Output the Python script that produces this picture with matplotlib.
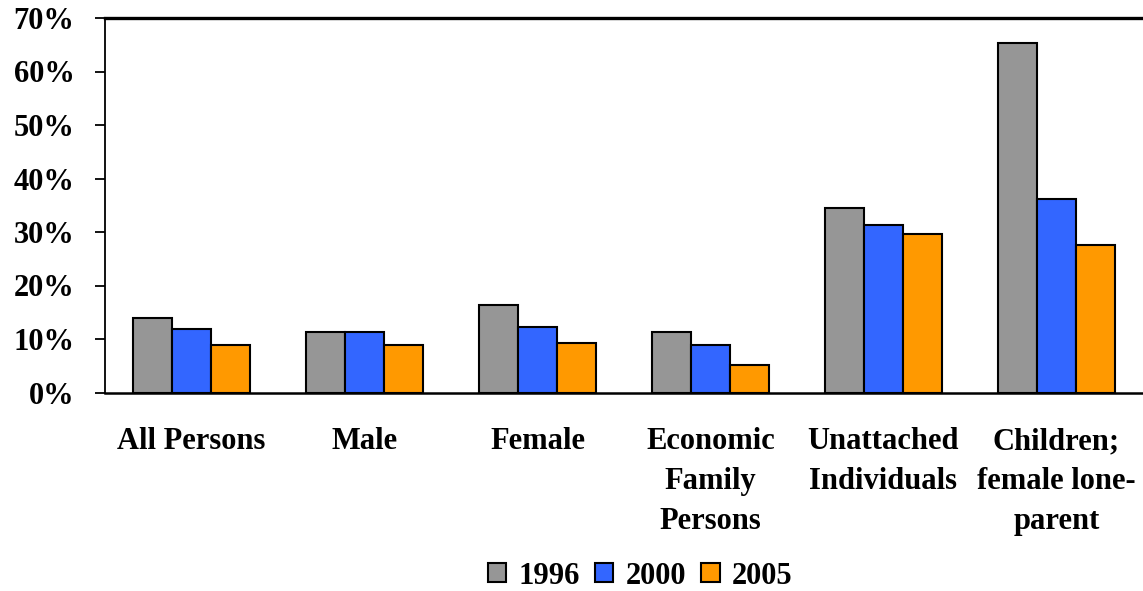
import numpy as np
import matplotlib
matplotlib.use("Agg")
import matplotlib.pyplot as plt
from matplotlib.ticker import PercentFormatter

categories = ["All Persons", "Male", "Female", "Economic\nFamily\nPersons",
              "Unattached\nIndividuals", "Children;\nfemale lone-\nparent"]
years = ["1996", "2000", "2005"]
rate_1996 = [14.0, 11.4, 16.3, 11.4, 34.4, 65.3]
rate_2000 = [11.8, 11.4, 12.2, 8.8, 31.4, 36.1]
rate_2005 = [8.8, 8.8, 9.2, 5.2, 29.7, 27.5]
colors = ["#969696", "#3366FF", "#FF9900"]

plt.rcParams["font.family"] = ["Liberation Serif", "DejaVu Serif"]
plt.rcParams["font.weight"] = "bold"

fig = plt.figure(figsize=(11.43, 5.91), dpi=100)
ax = fig.add_axes([105 / 1143, 1 - 392.5 / 591, 1 - 105 / 1143, (392.5 - 18) / 591])

x = np.arange(len(categories))
w = 0.225
for i, (vals, yr) in enumerate(zip([rate_1996, rate_2000, rate_2005], years)):
    ax.bar(x + (i - 1) * w, vals, w, color=colors[i], edgecolor="black",
           linewidth=1.5, label=yr)

ax.set_xlim(-0.5, len(categories) - 0.5)
ax.set_ylim(0, 70)
ax.set_yticks(np.arange(0, 71, 10))
ax.yaxis.set_major_formatter(PercentFormatter(decimals=0))
ax.set_xticks(x)
ax.set_xticklabels(categories, fontsize=22, fontweight="bold", linespacing=1.5)
ax.tick_params(axis="x", length=0, pad=25)
ax.tick_params(axis="y", length=7, width=1.3, pad=15, labelsize=22)
for lab in ax.get_yticklabels():
    lab.set_fontweight("bold")

ax.spines["right"].set_visible(False)
ax.spines["left"].set_linewidth(1.3)
ax.spines["bottom"].set_linewidth(1.8)
ax.spines["top"].set_linewidth(2.4)

# title sits above the canvas, only its descenders reach in
fig.text(201 / 1143, 1 + 9 / 591, "Poverty Rates by Family Type", fontsize=28,
         fontweight="bold", ha="left", va="baseline")

fig.legend(loc="center", bbox_to_anchor=(640 / 1143, 1 - 576 / 591), ncol=3,
           frameon=False, fontsize=22, handlelength=0.6, handleheight=0.6,
           handletextpad=0.4, columnspacing=0.5)

fig.savefig("out.png", dpi=100)
